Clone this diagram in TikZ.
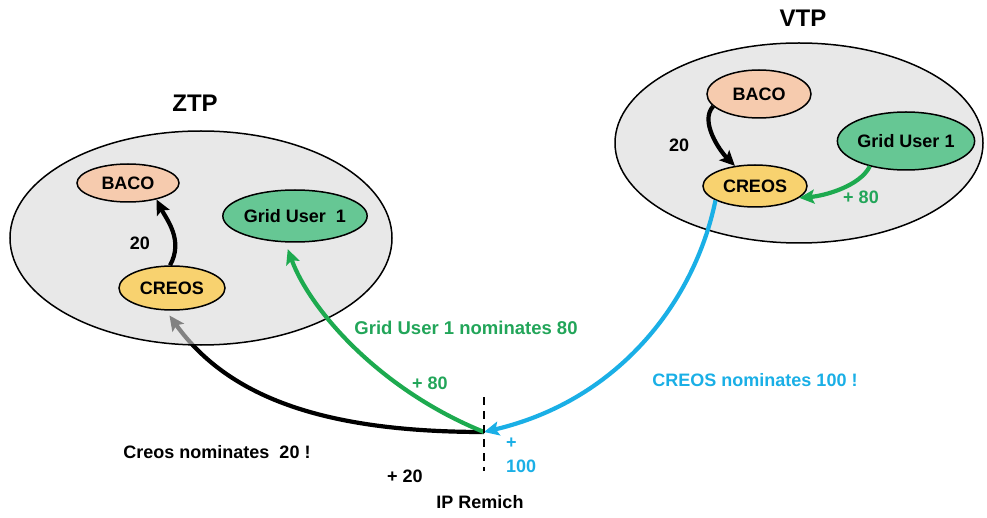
\documentclass[tikz,border=0pt]{standalone}
\usepackage{fontspec}
\setmainfont{Liberation Sans}
\usetikzlibrary{shapes.geometric,arrows.meta,backgrounds}
\definecolor{zonefill}{HTML}{D9D9D9}
\definecolor{bacofill}{HTML}{F6CBAE}
\definecolor{creosfill}{HTML}{F8D26F}
\definecolor{gridfill}{HTML}{66C794}
\definecolor{arrgreen}{HTML}{1DAA4F}
\definecolor{txtgreen}{HTML}{22A559}
\definecolor{arrblue}{HTML}{1AAFE6}
\tikzset{
  zone/.style={ellipse, draw=black, line width=1.5pt, fill=zonefill, fill opacity=0.6, text opacity=1, inner sep=0pt},
  actor/.style={ellipse, draw=black, line width=1.5pt, inner sep=0pt, font=\fontsize{18}{20}\selectfont\bfseries},
  lbl/.style={font=\fontsize{18}{20}\selectfont\bfseries, inner sep=0pt},
  ttl/.style={font=\fontsize{24}{26}\selectfont\bfseries, inner sep=0pt},
  tip/.style={-{Stealth[length=15pt,width=14pt,inset=3pt]}},
  blkarrow/.style={tip, line width=4.2pt, draw=black},
  grnarrow/.style={tip, line width=4.2pt, draw=arrgreen},
  bluarrow/.style={tip, line width=4.2pt, draw=arrblue},
}
\begin{document}
\begin{tikzpicture}[x=1pt,y=-1pt]
\useasboundingbox (0,0) rectangle (987,518);
% IP point and dashed line
\coordinate (ip) at (484,432);
\coordinate (dtop) at (484,397);
\coordinate (dbot) at (484,471);
% ZTP zone
\node[zone, minimum width=382pt, minimum height=214pt] (ztp) at (201,238) {};
\node[ttl] (ztpt) at (195,103) {ZTP};
\node[actor, fill=bacofill, minimum width=102pt, minimum height=38pt] (bL) at (128,183) {BACO};
\node[actor, fill=gridfill, minimum width=134pt, minimum height=52pt] (gL) at (295,216) {Grid User\ \ 1};
\node[actor, fill=creosfill, minimum width=106pt, minimum height=44pt] (cL) at (172,288) {CREOS};
\draw[blkarrow] (cL.95) .. controls +(14,-25) and +(10,20) .. (bL.-30);
\node[lbl] (l20L) at (140,243) {20};
% black arrow under the semi-transparent zone
\begin{scope}[on background layer]
\draw[blkarrow, shorten >=6pt] (ip) .. controls (330,432) and (230,400) .. (cL.255);
\end{scope}
% VTP zone
\node[zone, fill opacity=1, fill=zonefill!60, minimum width=368pt, minimum height=200pt] (vtp) at (799,143) {};
\node[ttl] (vtpt) at (803,18) {VTP};
\node[actor, fill=bacofill, minimum width=104pt, minimum height=48pt] (bR) at (759,94) {BACO};
\node[actor, fill=gridfill, minimum width=116pt, minimum height=58pt] (gR) at (906,141) {Grid User 1};
\node[actor, fill=creosfill, minimum width=104pt, minimum height=42pt] (cR) at (755,186) {CREOS};
\draw[blkarrow] (bR.195) .. controls +(-14,15) and +(-15,-15) .. (cR.135);
\node[lbl] (l20R) at (679,145) {20};
\draw[grnarrow] (gR.215) .. controls +(-10,20) and +(25,-2) .. (cR.-15);
\node[lbl, text=txtgreen] (l80R) at (861,197) {+ 80};
% connectors to IP
\draw[grnarrow, shorten >=7pt] (ip) .. controls (380,390) and (310,310) .. (gL.250);
\draw[bluarrow] (cR.200) .. controls (695,300) and (620,400) .. (ip);
\draw[black, line width=2.5pt, dash pattern=on 8pt off 6pt] (dtop) -- (dbot);
% labels
\node[lbl, text=txtgreen, font=\fontsize{18.5}{20}\selectfont\bfseries] (nomG) at (466,328) {Grid User 1 nominates 80};
\node[lbl, text=txtgreen] (p80) at (430,383) {+ 80};
\node[lbl, text=arrblue] (nomB) at (755,380) {CREOS nominates 100 !};
\node[lbl] (nomC) at (217,452) {Creos nominates\ \ 20 !};
\node[lbl] (p20) at (405,476) {+ 20};
\node[lbl] (remich) at (480,502) {IP Remich};
\node[lbl, text=arrblue, align=left, anchor=west, font=\fontsize{18}{24}\selectfont\bfseries] (p100) at (506,455) {+\\100};
\end{tikzpicture}
\end{document}
